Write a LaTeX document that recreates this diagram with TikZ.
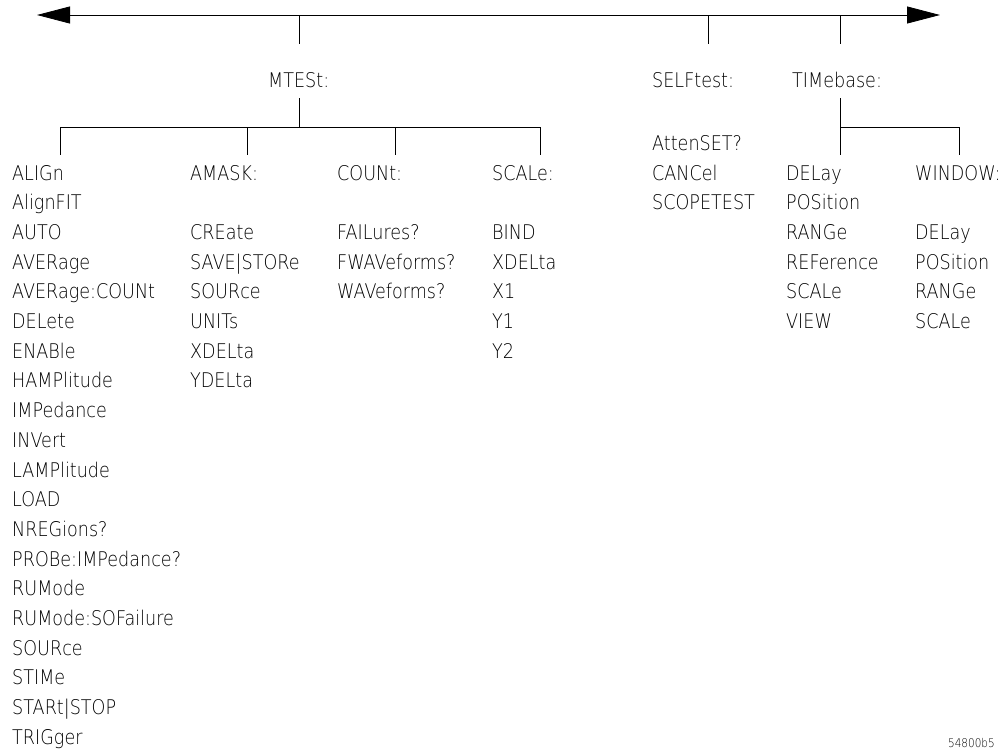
\documentclass[tikz,border=0pt]{standalone}
\usepackage{fontspec}
\setmainfont{DejaVu Sans ExtraLight}[FakeStretch=0.87]
\usetikzlibrary{arrows.meta}
\newcommand\lblfont{\fontsize{20.2}{20.2}\selectfont}
\newcommand\smlfont{\fontsize{12}{12}\selectfont}
\begin{document}
\begin{tikzpicture}[x=1pt,y=-1pt,
  lbl/.style={anchor=base west,inner sep=0pt,font=\lblfont},
  wire/.style={line width=0.8pt,black},
  tip/.style={-{Triangle[length=33pt,width=17pt]}}]
\useasboundingbox (0,0) rectangle (1003,750);
% top bus
\coordinate (lt) at (37,15);
\coordinate (rt) at (940,15);
\coordinate (bmid) at (500,15);
\draw[wire,tip] (bmid) -- (lt);
\draw[wire,tip] (bmid) -- (rt);
% headers
\node[lbl] (mtest) at (268,87) {MTESt:};
\node[lbl] (self) at (652,87) {SELFtest:};
\node[lbl] (time) at (792,87) {TIMebase:};
\coordinate (d1a) at (299,15); \coordinate (d1b) at (299,44);
\coordinate (d2a) at (708,15); \coordinate (d2b) at (708,44);
\coordinate (d3a) at (840,15); \coordinate (d3b) at (840,44);
\draw[wire] (d1a) -- (d1b);
\draw[wire] (d2a) -- (d2b);
\draw[wire] (d3a) -- (d3b);
% MTESt subtree
\coordinate (ma) at (299,98); \coordinate (mj) at (299,127);
\coordinate (mL) at (60,127); \coordinate (mR) at (540,127);
\coordinate (c1a) at (60,127);  \coordinate (c1b) at (60,155);
\coordinate (c2a) at (247,127); \coordinate (c2b) at (247,155);
\coordinate (c3a) at (395,127); \coordinate (c3b) at (395,155);
\coordinate (c4a) at (540,127); \coordinate (c4b) at (540,155);
\draw[wire] (ma) -- (mj);
\draw[wire] (mL) -- (mR);
\draw[wire] (c1a) -- (c1b);
\draw[wire] (c2a) -- (c2b);
\draw[wire] (c3a) -- (c3b);
\draw[wire] (c4a) -- (c4b);
% TIMebase subtree
\coordinate (ta) at (840,98); \coordinate (tb) at (840,155);
\coordinate (tj) at (840,127); \coordinate (tw) at (959,127); \coordinate (twb) at (959,155);
\draw[wire] (ta) -- (tb);
\draw[wire] (tj) -- (tw) -- (twb);
% left column
\foreach \t [count=\i from 0] in {ALIGn,AlignFIT,AUTO,AVERage,AVERage:COUNt,DELete,ENABle,HAMPlitude,IMPedance,INVert,LAMPlitude,LOAD,NREGions?,PROBe:IMPedance?,RUMode,RUMode:SOFailure,SOURce,STIMe,STARt|STOP,TRIGger}
  \node[lbl] (L\i) at (12,{180+29.7*\i}) {\t};
% AMASK
\node[lbl] (amask) at (190,180) {AMASK:};
\foreach \t [count=\i from 2] in {CREate,SAVE|STORe,SOURce,UNITs,XDELta,YDELta}
  \node[lbl] (A\i) at (190,{180+29.7*\i}) {\t};
% COUNt
\node[lbl] (count) at (337,180) {COUNt:};
\foreach \t [count=\i from 2] in {FAILures?,FWAVeforms?,WAVeforms?}
  \node[lbl] (C\i) at (337,{180+29.7*\i}) {\t};
% SCALe
\node[lbl] (scale) at (492,180) {SCALe:};
\foreach \t [count=\i from 2] in {BIND,XDELta,X1,Y1,Y2}
  \node[lbl] (S\i) at (492,{180+29.7*\i}) {\t};
% SELFtest
\foreach \t [count=\i from -1] in {AttenSET?,CANCel,SCOPETEST}
  \node[lbl] (F\i) at (652,{180+29.7*\i}) {\t};
% TIMebase
\foreach \t [count=\i from 0] in {DELay,POSition,RANGe,REFerence,SCALe,VIEW}
  \node[lbl] (T\i) at (786,{180+29.7*\i}) {\t};
\node[lbl] (window) at (915,180) {WINDOW:};
\foreach \t [count=\i from 2] in {DELay,POSition,RANGe,SCALe}
  \node[lbl] (W\i) at (915,{180+29.7*\i}) {\t};
\node[anchor=base west,inner sep=0pt,font=\smlfont] (fig) at (948,747) {54800b5};
\end{tikzpicture}
\end{document}
